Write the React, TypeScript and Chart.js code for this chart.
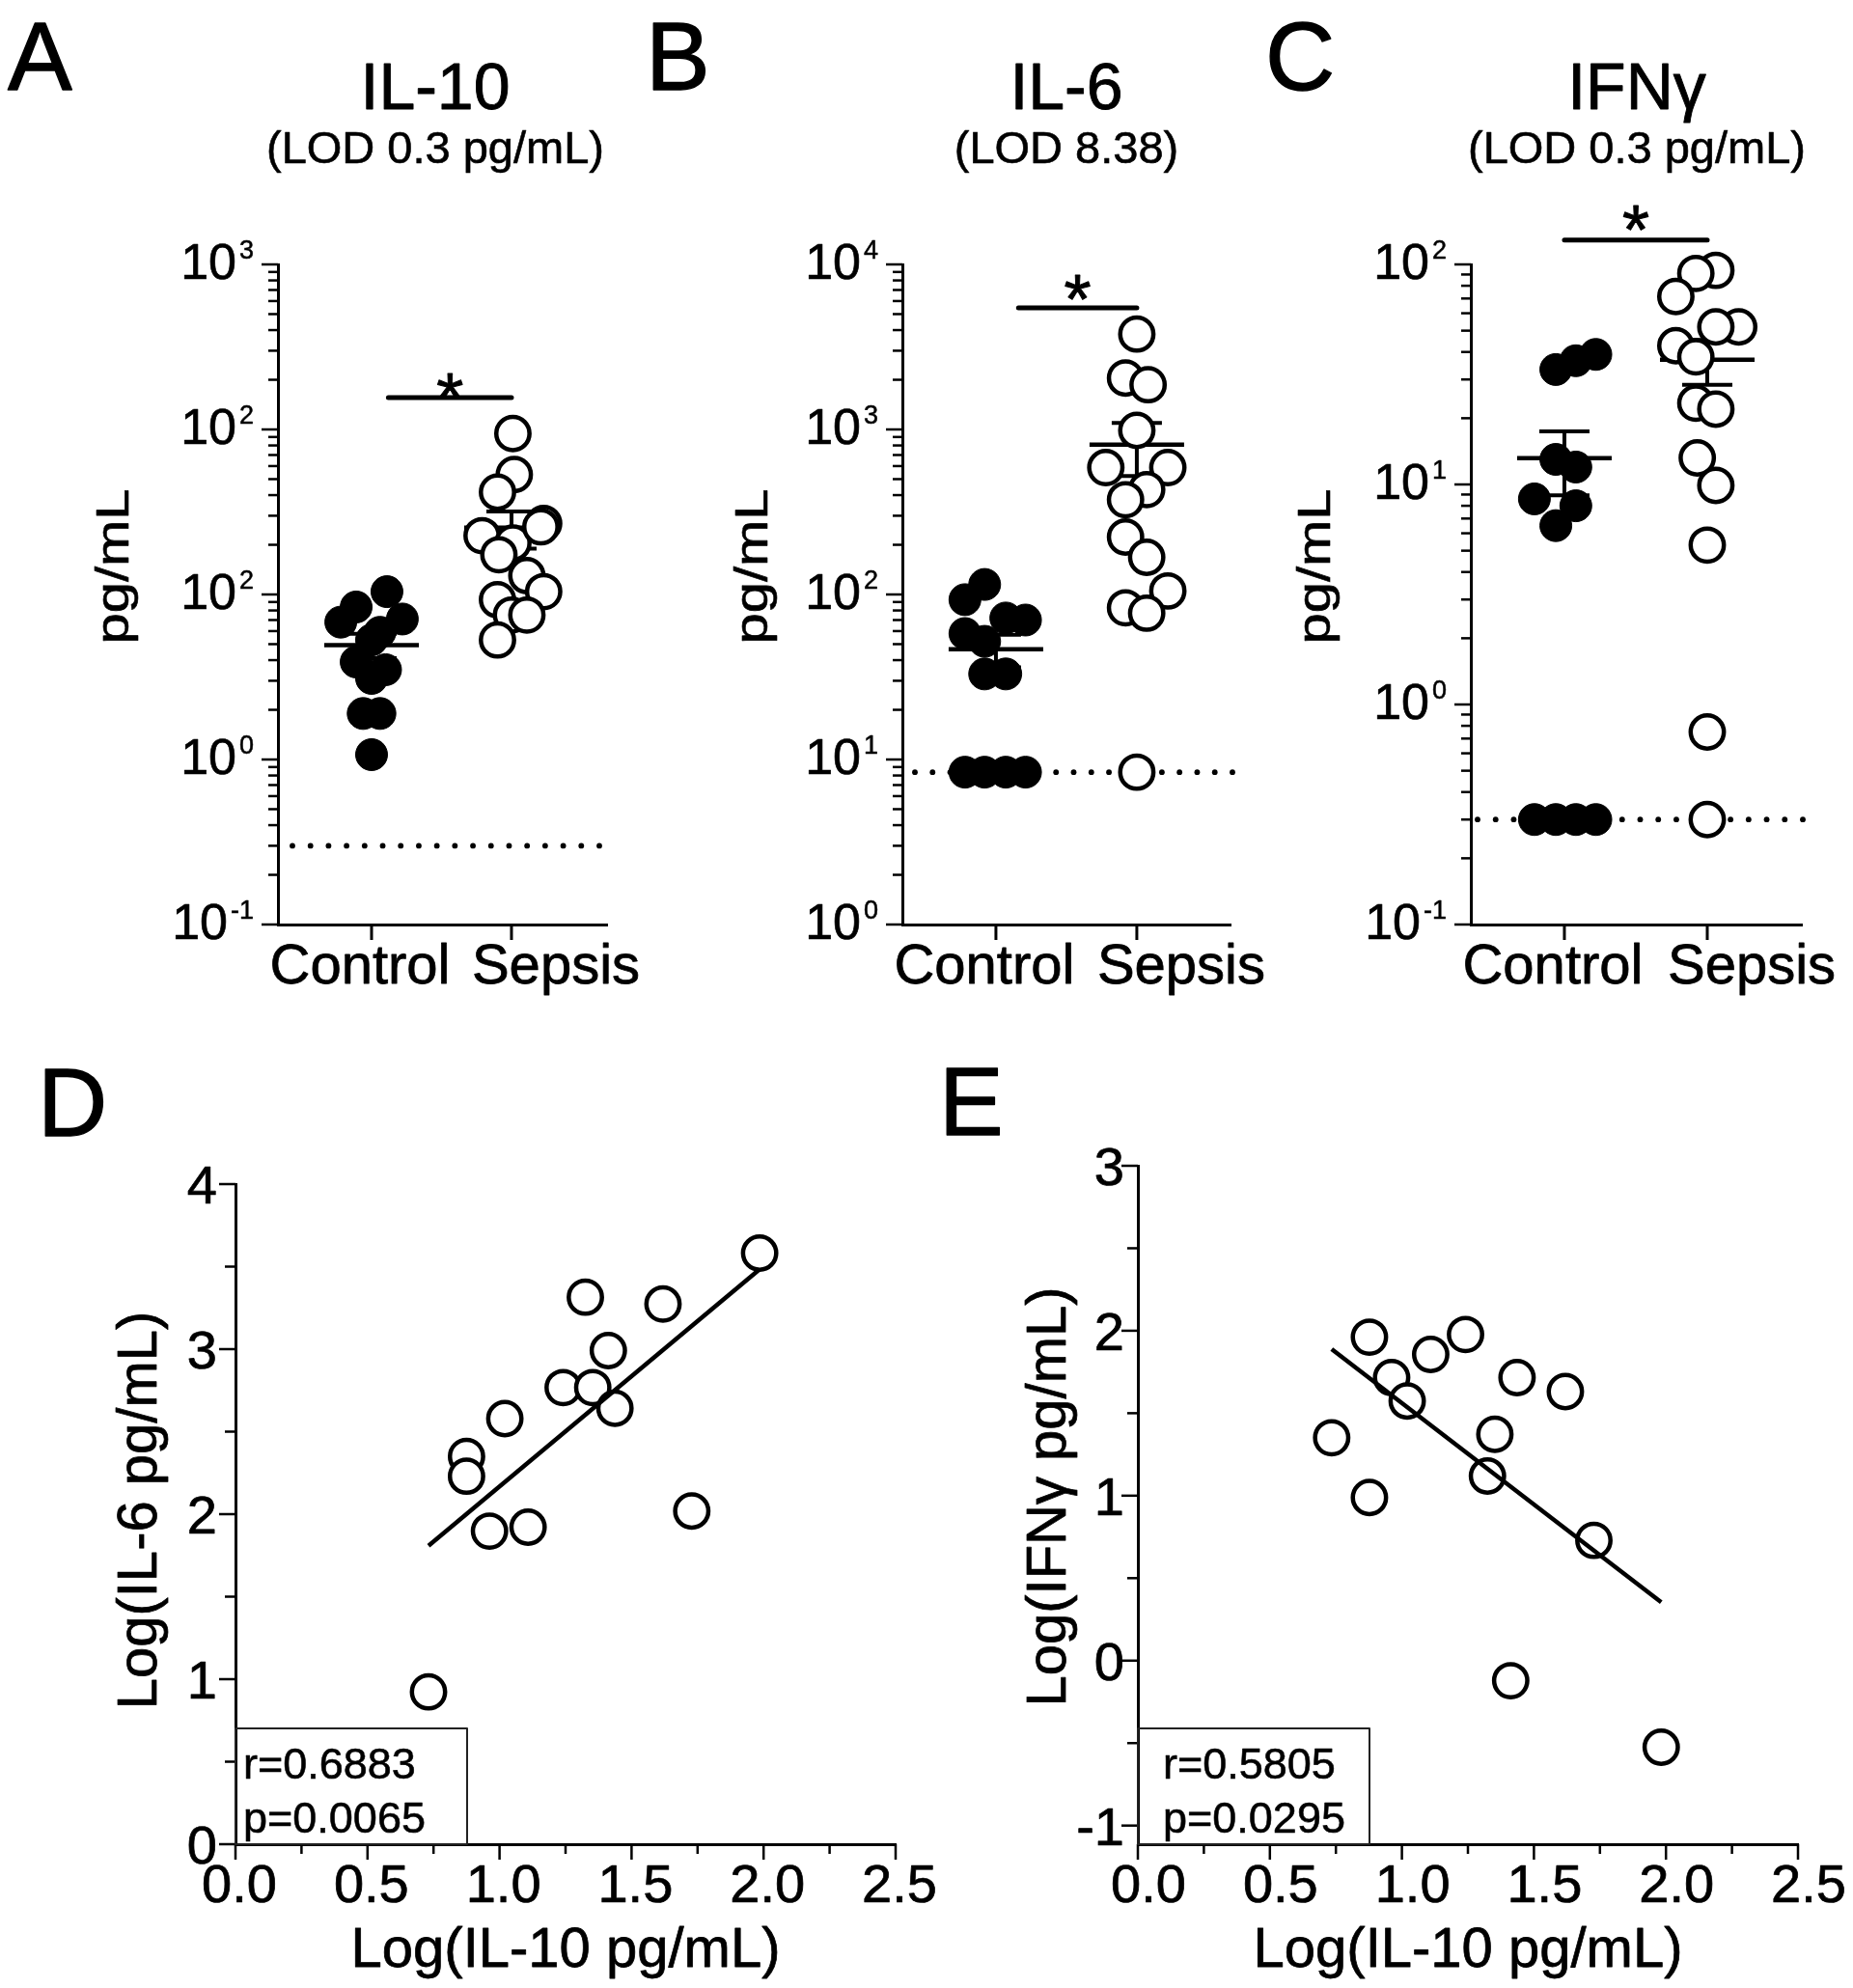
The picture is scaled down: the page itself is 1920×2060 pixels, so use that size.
import React, { useEffect, useRef } from "react";
import { Chart, registerables } from "chart.js";

Chart.register(...registerables);

const FONT = "'Liberation Sans', Arial, Helvetica, sans-serif";
const INK = "#000";

// ---------------- categories ----------------
const groups = ["Control", "Sepsis"];

// ---------------- Panel A : IL-10 (pg/mL) ----------------
const il10ControlPg = [10.4, 8.4, 6.8, 7.1, 5.9, 5.3, 3.9, 3.5, 3.1, 1.9, 1.9, 1.07];
const il10ControlJitter = [0.11, -0.11, -0.22, 0.22, 0.06, 0, -0.11, 0.1, 0, -0.06, 0.06, 0];
const il10SepsisPg = [94.4, 53.3, 41.7, 26.9, 22.7, 20.5, 17.4, 13.0, 10.4, 9.3, 7.5, 7.5, 5.3, 25.7];
const il10SepsisJitter = [0.01, 0.02, -0.1, 0.23, -0.21, 0.01, -0.09, 0.11, 0.23, -0.1, 0, 0.11, -0.1, 0.21];
const il10Lod = 0.3;
const il10TickValues = [0.1, 1, 10, 100, 1000];
const il10TickExps = ["-1", "0", "2", "2", "3"];
const il10SigBar = [0.12, 1, 156]; // from group, to group, level (pg/mL)

// ---------------- Panel B : IL-6 (pg/mL) ----------------
const il6ControlPg = [115, 93, 72, 70, 58, 52, 33, 33, 8.38, 8.38, 8.38, 8.38];
const il6ControlJitter = [-0.08, -0.22, 0.07, 0.21, -0.22, -0.08, -0.08, 0.07, -0.22, -0.08, 0.07, 0.21];
const il6SepsisPg = [3785, 2050, 1866, 986, 587, 587, 432, 375, 223, 168, 105, 83, 77, 8.38];
const il6SepsisJitter = [0, -0.08, 0.08, 0, -0.22, 0.22, 0.07, -0.08, -0.08, 0.07, 0.22, -0.08, 0.07, 0];
const il6Lod = 8.38;
const il6TickValues = [1, 10, 100, 1000, 10000];
const il6TickExps = ["0", "1", "2", "3", "4"];
const il6SigBar = [0.16, 1, 5460];

// ---------------- Panel C : IFNγ (pg/mL) ----------------
const ifngControlPg = [39, 36.5, 33.3, 13.0, 12.0, 8.6, 8.0, 6.5, 0.3, 0.3, 0.3, 0.3];
const ifngControlJitter = [0.22, 0.08, -0.06, -0.06, 0.08, -0.21, 0.08, -0.06, -0.21, -0.06, 0.08, 0.22];
const ifngSepsisPg = [94, 91, 71.5, 52, 52, 42.7, 38, 23.4, 22, 13.2, 9.9, 5.3, 0.75, 0.3];
const ifngSepsisJitter = [0.06, -0.08, -0.22, 0.22, 0.06, -0.22, -0.08, -0.08, 0.06, -0.07, 0.06, 0, 0, 0];
const ifngLod = 0.3;
const ifngTickValues = [0.1, 1, 10, 100];
const ifngTickExps = ["-1", "0", "1", "2"];
const ifngSigBar = [0, 1, 129];

// ---------------- Panel D : log IL-10 vs log IL-6 ----------------
const dLogIL10 = [1.985, 1.325, 1.619, 1.412, 1.241, 1.353, 1.437, 1.02, 0.875, 0.875, 1.728, 0.962, 1.108, 0.731];
const dLogIL6 = [3.582, 3.315, 3.273, 2.991, 2.767, 2.767, 2.642, 2.579, 2.35, 2.23, 2.019, 1.897, 1.921, 0.923];
const dStats = ["r=0.6883", "p=0.0065"];
const dYTicks = [0, 1, 2, 3, 4];
const dYTickLabels = ["0", "1", "2", "3", "4"];
const dYMinor = [0.5, 1.5, 2.5, 3.5];

// ---------------- Panel E : log IL-10 vs log IFNγ ----------------
const eLogIL10 = [0.877, 1.241, 1.109, 0.961, 1.436, 1.619, 1.02, 0.734, 1.352, 1.324, 0.877, 1.727, 1.412, 1.982];
const eLogIFNg = [1.961, 1.977, 1.856, 1.716, 1.716, 1.631, 1.574, 1.351, 1.372, 1.119, 0.989, 0.729, -0.122, -0.525];
const eStats = ["r=0.5805", "p=0.0295"];
const eYTicks = [-1, 0, 1, 2, 3];
const eYTickLabels = ["-1", "0", "1", "2", "3"];
const eYMinor = [-0.5, 0.5, 1.5, 2.5];

// shared x ticks for correlations
const corrXTicks = [0, 0.5, 1, 1.5, 2, 2.5];
const corrXTickLabels = ["0.0", "0.5", "1.0", "1.5", "2.0", "2.5"];
const corrXMinor = [0.25, 0.75, 1.25, 1.75, 2.25];

// ---------------- panel layouts ----------------
const panelA = {
  letter: "A", title: "IL-10", subtitle: "(LOD 0.3 pg/mL)", yTitle: "pg/mL",
  control: il10ControlPg, controlJitter: il10ControlJitter, sepsis: il10SepsisPg, sepsisJitter: il10SepsisJitter,
  lod: il10Lod, yMin: 0.1, yMax: 1000, tickValues: il10TickValues, tickExps: il10TickExps, sig: il10SigBar,
  box: { ox: 0, oy: 0, w: 700, h: 1040 },
  area: { left: 288, right: 629, top: 274, bottom: 958 }, xMin: -0.669, xMax: 1.683,
  letterX: 8, titleX: 451, yTitleX: 133, starGap: 16, lodStart: 15, lodEnd: -8,
};
const panelB = {
  letter: "B", title: "IL-6", subtitle: "(LOD 8.38)", yTitle: "pg/mL",
  control: il6ControlPg, controlJitter: il6ControlJitter, sepsis: il6SepsisPg, sepsisJitter: il6SepsisJitter,
  lod: il6Lod, yMin: 1, yMax: 10000, tickValues: il6TickValues, tickExps: il6TickExps, sig: il6SigBar,
  box: { ox: 640, oy: 0, w: 700, h: 1040 },
  area: { left: 935, right: 1275, top: 274, bottom: 958 }, xMin: -0.664, xMax: 1.665,
  letterX: 669, titleX: 1105, yTitleX: 795, starGap: 25, lodStart: 13, lodEnd: 2,
};
const panelC = {
  letter: "C", title: "IFNγ", subtitle: "(LOD 0.3 pg/mL)", yTitle: "pg/mL",
  control: ifngControlPg, controlJitter: ifngControlJitter, sepsis: ifngSepsisPg, sepsisJitter: ifngSepsisJitter,
  lod: ifngLod, yMin: 0.1, yMax: 100, tickValues: ifngTickValues, tickExps: ifngTickExps, sig: ifngSigBar,
  box: { ox: 1280, oy: 0, w: 640, h: 1040 },
  area: { left: 1524, right: 1867, top: 274, bottom: 958 }, xMin: -0.655, xMax: 1.662,
  letterX: 1311, titleX: 1696, yTitleX: 1378, starGap: 27, lodStart: 7, lodEnd: 1,
};
const panelD = {
  letter: "D", xs: dLogIL10, ys: dLogIL6, stats: dStats,
  xTitle: "Log(IL-10 pg/mL)", yTitle: "Log(IL-6 pg/mL)",
  yMin: 0, yMax: 4, yTicks: dYTicks, yTickLabels: dYTickLabels, yMinor: dYMinor,
  box: { ox: 0, oy: 1060, w: 1000, h: 1000 },
  area: { left: 244, right: 928, top: 1227, bottom: 1911 },
  letterX: 39, letterY: 1177, yTitleX: 162, yTitleY: 1565, xTitleY: 2038,
  xLabelShift: 4, yLabelGap: 19, statsX: 8,
};
const panelE = {
  letter: "E", xs: eLogIL10, ys: eLogIFNg, stats: eStats,
  xTitle: "Log(IL-10 pg/mL)", yTitle: "Log(IFNγ pg/mL)",
  yMin: -1.113, yMax: 3, yTicks: eYTicks, yTickLabels: eYTickLabels, yMinor: eYMinor,
  box: { ox: 940, oy: 1060, w: 980, h: 1000 },
  area: { left: 1179, right: 1863, top: 1208, bottom: 1911 },
  letterX: 973, letterY: 1176, yTitleX: 1104, yTitleY: 1551, xTitleY: 2038,
  xLabelShift: 11, yLabelGap: 14, statsX: 26,
};

// ---------------- helpers ----------------
function meanSem(v: number[]) {
  const n = v.length;
  const m = v.reduce((a, b) => a + b, 0) / n;
  const sd = Math.sqrt(v.reduce((a, b) => a + (b - m) * (b - m), 0) / (n - 1));
  return [m, sd / Math.sqrt(n)];
}
function linreg(xs: number[], ys: number[]) {
  const n = xs.length;
  const mx = xs.reduce((a, b) => a + b, 0) / n;
  const my = ys.reduce((a, b) => a + b, 0) / n;
  let sxy = 0, sxx = 0;
  for (let i = 0; i < n; i++) { sxy += (xs[i] - mx) * (ys[i] - my); sxx += (xs[i] - mx) ** 2; }
  const slope = sxy / sxx;
  return { slope, intercept: my - slope * mx };
}
function txt(ctx: any, s: string, x: number, y: number, size: number, align = "left", weight = "normal") {
  ctx.font = `${weight} ${size}px ${FONT}`;
  ctx.textAlign = align;
  ctx.textBaseline = "alphabetic";
  ctx.fillStyle = INK;
  ctx.fillText(s, x, y);
  ctx.strokeStyle = INK;
  ctx.lineJoin = "round";
  ctx.lineWidth = Math.max(0.5, size * 0.013);
  ctx.strokeText(s, x, y);
}
function seg(ctx: any, x1: number, y1: number, x2: number, y2: number, w: number) {
  ctx.lineWidth = w;
  ctx.strokeStyle = INK;
  ctx.beginPath();
  ctx.moveTo(x1, y1);
  ctx.lineTo(x2, y2);
  ctx.stroke();
}
function rotTxt(ctx: any, s: string, bx: number, cy: number, size: number, stretch = 1) {
  ctx.save();
  ctx.translate(bx, cy);
  ctx.rotate(-Math.PI / 2);
  ctx.scale(stretch, 1);
  txt(ctx, s, 0, 0, size, "center");
  ctx.restore();
}

function baseOptions(P: any, xScale: any, yScale: any) {
  const { ox, oy, w, h } = P.box;
  const a = P.area;
  return {
    responsive: false,
    maintainAspectRatio: false,
    animation: false,
    devicePixelRatio: 1,
    events: [],
    layout: { autoPadding: false, padding: { left: 0, top: a.top - oy, right: ox + w - a.right, bottom: 0 } },
    plugins: { legend: { display: false }, tooltip: { enabled: false }, title: { display: false } },
    scales: {
      x: {
        ...xScale,
        grid: { display: false },
        ticks: { display: false },
        border: { display: true, color: INK, width: 3 },
        afterFit: (s: any) => { s.height = oy + h - a.bottom; },
      },
      y: {
        ...yScale,
        grid: { display: false },
        ticks: { display: false },
        border: { display: true, color: INK, width: 3 },
        afterFit: (s: any) => { s.width = a.left - ox; },
      },
    },
  };
}

// ---------------- dot-plot panels ----------------
function dotDecor(P: any) {
  const ox = P.box.ox, oy = P.box.oy;
  return {
    id: "dotDecor" + P.letter,
    beforeDatasetsDraw(chart: any) {
      const { ctx, chartArea: ca } = chart;
      const xs = chart.scales.x, ys = chart.scales.y;
      ctx.save();
      // LOD dotted line, dots at both ends
      const ly = ys.getPixelForValue(P.lod);
      const s0 = ca.left + P.lodStart, s1 = ca.right + P.lodEnd;
      const nDots = Math.round((s1 - s0) / 18.5);
      const step = (s1 - s0) / nDots;
      ctx.fillStyle = INK;
      for (let k = 0; k <= nDots; k++) {
        ctx.beginPath();
        ctx.arc(s0 + k * step, ly, 2.9, 0, Math.PI * 2);
        ctx.fill();
      }
      ctx.lineCap = "butt";
      [P.control, P.sepsis].forEach((vals: number[], g: number) => {
        const [m, s] = meanSem(vals);
        const cx = xs.getPixelForValue(g);
        const my = ys.getPixelForValue(m);
        const hy = ys.getPixelForValue(m + s);
        const lo = ys.getPixelForValue(m - s);
        seg(ctx, cx - 49, my, cx + 49, my, 4.5);
        seg(ctx, cx, hy, cx, lo, 4);
        seg(ctx, cx - 26, hy, cx + 26, hy, 4);
        seg(ctx, cx - 26, lo, cx + 26, lo, 4);
      });
      ctx.restore();
    },
    afterDraw(chart: any) {
      const { ctx, chartArea: ca } = chart;
      const xs = chart.scales.x, ys = chart.scales.y;
      ctx.save();
      ctx.lineCap = "butt";
      // y ticks (log)
      const lo = Math.round(Math.log10(P.yMin)), hi = Math.round(Math.log10(P.yMax));
      for (let k = lo; k <= hi; k++) {
        const py = ys.getPixelForValue(Math.pow(10, k));
        seg(ctx, ca.left - 17, py, ca.left, py, 2.5);
        if (k < hi) {
          for (let m = 2; m <= 9; m++) {
            const pm = ys.getPixelForValue(m * Math.pow(10, k));
            seg(ctx, ca.left - 10, pm, ca.left, pm, 2.5);
          }
        }
      }
      // y tick labels with superscripts
      P.tickValues.forEach((v: number, i: number) => {
        const py = ys.getPixelForValue(v);
        const right = ca.left - 25;
        ctx.font = `27px ${FONT}`;
        const we = ctx.measureText(P.tickExps[i]).width;
        ctx.font = `52px ${FONT}`;
        const wb = ctx.measureText("10").width;
        txt(ctx, "10", right - we - 3 - wb, py + 14.5, 52);
        txt(ctx, P.tickExps[i], right - we, py - 5.7, 27);
      });
      // x ticks and category labels
      const shifts = [-12, 46];
      groups.forEach((g, i) => {
        const px = xs.getPixelForValue(i);
        seg(ctx, px, ca.bottom, px, ca.bottom + 16, 3);
        txt(ctx, g, px + shifts[i], 1019 - oy, 58, "center");
      });
      // titles & letter
      txt(ctx, P.letter, P.letterX - ox, 93 - oy, 100);
      txt(ctx, P.title, P.titleX - ox, 113 - oy, 68, "center");
      txt(ctx, P.subtitle, P.titleX - ox, 169 - oy, 47, "center");
      rotTxt(ctx, P.yTitle, P.yTitleX - ox, 587 - oy, 47.5, 1.22);
      // significance bar + star
      const bx1 = xs.getPixelForValue(P.sig[0]);
      const bx2 = xs.getPixelForValue(P.sig[1]);
      const by = ys.getPixelForValue(P.sig[2]);
      ctx.lineCap = "round";
      seg(ctx, bx1, by, bx2, by, 5);
      txt(ctx, "*", (bx1 + bx2) / 2, by - P.starGap + 41, 72, "center");
      ctx.restore();
    },
  };
}

function makeDotChart(canvas: HTMLCanvasElement, P: any) {
  const ctrl = P.control.map((v: number, i: number) => ({ x: 0 + P.controlJitter[i], y: v }));
  const seps = P.sepsis.map((v: number, i: number) => ({ x: 1 + P.sepsisJitter[i], y: v }));
  return new Chart(canvas, {
    type: "scatter",
    data: {
      datasets: [
        { data: seps, pointRadius: 17.2, pointBackgroundColor: "#fff", pointBorderColor: INK, pointBorderWidth: 4.5, clip: false, order: 1 },
        { data: ctrl, pointRadius: 16.5, pointBackgroundColor: INK, pointBorderColor: INK, pointBorderWidth: 1, clip: false, order: 2 },
      ],
    },
    options: baseOptions(P, { type: "linear", min: P.xMin, max: P.xMax }, { type: "logarithmic", min: P.yMin, max: P.yMax }) as any,
    plugins: [dotDecor(P)],
  } as any);
}

// ---------------- correlation panels ----------------
function corrDecor(P: any) {
  const ox = P.box.ox, oy = P.box.oy;
  return {
    id: "corrDecor" + P.letter,
    afterDraw(chart: any) {
      const { ctx, chartArea: ca } = chart;
      const xs = chart.scales.x, ys = chart.scales.y;
      ctx.save();
      ctx.lineCap = "butt";
      // y ticks
      P.yTicks.forEach((v: number, i: number) => {
        const py = ys.getPixelForValue(v);
        seg(ctx, ca.left - 17, py, ca.left, py, 2.5);
        txt(ctx, P.yTickLabels[i], ca.left - P.yLabelGap, py + 20, 56, "right");
      });
      P.yMinor.forEach((v: number) => {
        const py = ys.getPixelForValue(v);
        seg(ctx, ca.left - 11, py, ca.left, py, 2.5);
      });
      // x ticks
      corrXTicks.forEach((v, i) => {
        const px = xs.getPixelForValue(v);
        seg(ctx, px, ca.bottom, px, ca.bottom + 16, 2.5);
        txt(ctx, corrXTickLabels[i], px + P.xLabelShift, ca.bottom + 60, 56, "center");
      });
      corrXMinor.forEach((v) => {
        const px = xs.getPixelForValue(v);
        seg(ctx, px, ca.bottom, px, ca.bottom + 10, 2.5);
      });
      // titles
      txt(ctx, P.xTitle, (ca.left + ca.right) / 2, P.xTitleY - oy, 58, "center");
      rotTxt(ctx, P.yTitle, P.yTitleX - ox, P.yTitleY - oy, 58, 1);
      txt(ctx, P.letter, P.letterX - ox, P.letterY - oy, 100);
      // stats box
      ctx.strokeStyle = "#222";
      ctx.lineWidth = 2;
      ctx.strokeRect(ca.left, ca.bottom - 120, 240, 120);
      txt(ctx, P.stats[0], ca.left + P.statsX, ca.bottom - 68, 45);
      txt(ctx, P.stats[1], ca.left + P.statsX, ca.bottom - 12.5, 45);
      ctx.restore();
    },
  };
}

function makeCorrChart(canvas: HTMLCanvasElement, P: any) {
  const pts = P.xs.map((x: number, i: number) => ({ x, y: P.ys[i] }));
  const { slope, intercept } = linreg(P.xs, P.ys);
  const x0 = Math.min(...P.xs), x1 = Math.max(...P.xs);
  const fit = [{ x: x0, y: intercept + slope * x0 }, { x: x1, y: intercept + slope * x1 }];
  return new Chart(canvas, {
    type: "scatter",
    data: {
      datasets: [
        { type: "line", data: fit, borderColor: INK, borderWidth: 4.5, pointRadius: 0, fill: false, clip: false, order: 0 },
        { data: pts, pointRadius: 17.2, pointBackgroundColor: "#fff", pointBorderColor: INK, pointBorderWidth: 4.5, clip: false, order: 1 },
      ],
    },
    options: baseOptions(P, { type: "linear", min: 0, max: 2.5 }, { type: "linear", min: P.yMin, max: P.yMax }) as any,
    plugins: [corrDecor(P)],
  } as any);
}

const panels = [
  { P: panelA, make: makeDotChart },
  { P: panelB, make: makeDotChart },
  { P: panelC, make: makeDotChart },
  { P: panelD, make: makeCorrChart },
  { P: panelE, make: makeCorrChart },
];

export default function App() {
  const refs = useRef<(HTMLCanvasElement | null)[]>([]);
  useEffect(() => {
    Chart.defaults.font.family = FONT;
    const charts = panels.map((p, i) => p.make(refs.current[i] as HTMLCanvasElement, p.P));
    return () => charts.forEach((c) => c.destroy());
  }, []);
  return (
    <div style={{ position: "absolute", left: 0, top: 0, width: 1920, height: 2060, background: "#fff", overflow: "hidden" }}>
      {panels.map((p, i) => (
        <canvas
          key={i}
          ref={(el) => { refs.current[i] = el; }}
          width={p.P.box.w}
          height={p.P.box.h}
          style={{ position: "absolute", left: p.P.box.ox, top: p.P.box.oy, width: p.P.box.w, height: p.P.box.h }}
        />
      ))}
    </div>
  );
}
